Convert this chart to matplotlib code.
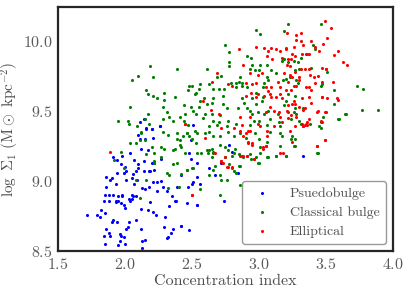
import matplotlib
matplotlib.use("Agg")
import matplotlib.pyplot as plt

# Psuedobulge (blue)
pb_x = [2.26, 2.16, 2.20, 2.10, 2.11, 2.15, 2.21, 2.12, 2.17, 2.04, 1.91, 1.94, 1.98, 2.27,
        2.07, 2.10, 2.14, 2.20, 2.22, 1.97, 2.00, 2.01, 2.10, 2.08, 2.06, 1.94, 1.99, 2.22,
        2.18, 2.14, 2.19, 1.86, 1.90, 1.89, 2.05, 2.01, 2.09, 1.93, 1.86, 2.07, 2.13, 2.15,
        2.18, 2.21, 2.24, 2.27, 2.28, 2.31, 2.24, 1.85, 1.88, 1.91, 1.95, 1.98, 1.98, 2.03,
        2.05, 2.04, 2.06, 2.05, 1.84, 1.88, 1.93, 1.95, 1.97, 2.00, 1.99, 1.93, 2.08, 2.19,
        2.38, 2.33, 2.54, 1.72, 1.79, 1.81, 1.82, 1.85, 1.91, 1.90, 1.94, 2.03, 2.08, 2.12,
        2.17, 2.21, 2.23, 2.30, 1.86, 1.88, 1.89, 1.84, 1.85, 1.96, 1.97, 2.01, 2.02, 1.99,
        1.96, 2.00, 1.95, 2.12, 2.13, 2.15, 2.13, 2.29, 2.31, 2.32, 2.36, 2.42, 2.50, 2.54,
        2.49, 2.48, 2.49, 2.54, 2.42, 2.51, 2.56, 2.39, 2.47, 2.63, 2.67, 2.72, 2.78, 2.80,
        2.84, 2.37, 2.46, 2.54, 2.74, 2.42, 2.48, 2.34, 2.35, 3.33, 2.51, 2.14, 2.11, 2.16,
        2.20, 2.26]
pb_y = [9.39, 9.37, 9.37, 9.33, 9.30, 9.30, 9.31, 9.23, 9.22, 9.20, 9.17, 9.15, 9.18, 9.16,
        9.15, 9.12, 9.14, 9.13, 9.13, 9.12, 9.10, 9.07, 9.09, 9.07, 9.05, 9.06, 9.06, 9.08,
        9.07, 9.07, 9.07, 9.03, 9.02, 9.01, 9.02, 9.01, 9.01, 8.98, 8.96, 8.98, 8.95, 8.94,
        8.96, 8.99, 8.99, 9.00, 8.96, 8.93, 8.93, 8.90, 8.90, 8.90, 8.89, 8.90, 8.89, 8.87,
        8.87, 8.86, 8.89, 8.90, 8.86, 8.86, 8.86, 8.86, 8.84, 8.81, 8.83, 8.85, 8.89, 8.85,
        8.86, 8.82, 8.83, 8.76, 8.76, 8.74, 8.79, 8.77, 8.72, 8.71, 8.71, 8.71, 8.72, 8.80,
        8.79, 8.78, 8.76, 8.74, 8.66, 8.63, 8.61, 8.61, 8.55, 8.62, 8.61, 8.66, 8.67, 8.60,
        8.57, 8.55, 8.54, 8.66, 8.57, 8.58, 8.52, 8.67, 8.59, 8.60, 8.66, 8.68, 8.98, 9.03,
        9.29, 9.20, 9.16, 9.13, 9.04, 8.99, 8.98, 8.96, 8.96, 9.09, 9.04, 9.13, 9.26, 9.21,
        9.06, 8.86, 8.84, 8.83, 8.86, 8.68, 8.65, 8.63, 8.89, 9.18, 9.40, 9.44, 9.42, 9.38,
        9.37, 9.39]

# Classical bulge (green)
cb_x = [2.19, 2.10, 2.21, 2.05, 2.16, 2.17, 2.21, 2.24, 2.29, 2.29, 2.04, 2.28, 2.31, 2.17,
        1.95, 2.02, 2.03, 2.09, 2.15, 2.18, 2.28, 2.33, 2.12, 2.12, 2.28, 2.32, 2.04, 2.08,
        2.11, 2.15, 2.16, 2.22, 2.20, 2.27, 2.29, 1.97, 1.92, 1.99, 2.22, 2.22, 2.27, 2.31,
        2.33, 2.08, 2.16, 2.32, 2.11,
        2.98, 3.01, 2.75, 2.78, 2.39, 2.61, 2.78, 2.78, 2.91, 2.94, 2.93, 2.95, 3.01, 2.69,
        2.72, 2.86, 2.85, 2.87, 2.97, 3.00, 3.06, 3.09, 3.13, 3.06, 3.07, 3.04, 3.03, 2.48,
        2.50, 2.56, 2.55, 2.47, 2.53, 2.52, 2.63, 2.66, 2.70, 2.74, 2.79, 2.83, 2.83, 2.87,
        2.91, 2.37, 2.59, 2.56, 2.61, 2.55, 2.65, 2.66, 2.73, 2.73, 2.44, 2.49, 2.51, 2.53,
        2.45, 2.44, 2.36, 2.41, 2.60, 2.58, 2.65, 2.66, 2.71, 2.70, 2.77, 2.76, 2.84, 2.91,
        2.87, 2.89, 2.95, 2.98, 3.02, 2.98, 3.03, 2.93, 2.95, 2.99, 3.04, 3.07, 2.96, 3.00,
        3.08, 3.14, 3.15, 2.47, 2.63, 2.69, 2.76, 2.83, 2.93, 3.06, 3.16,
        3.22, 3.46, 3.19, 3.40, 3.42, 3.35, 3.31, 3.29, 3.22, 3.26, 3.17, 3.19, 3.39, 3.50,
        3.51, 3.27, 3.30, 3.18, 3.20, 3.23, 3.28, 3.29, 3.47, 3.46, 3.73, 3.78, 3.56, 3.22,
        3.27, 3.20, 3.19, 3.47, 3.56, 3.27, 3.33, 3.22, 3.28, 3.26, 3.50, 3.64, 3.77, 3.89,
        3.48, 3.59, 3.46, 3.30, 3.31, 3.38, 3.24, 3.60, 3.65, 3.45, 3.46,
        2.43, 2.46, 2.41, 2.50, 2.54, 2.53, 2.61, 2.65, 2.66, 2.62, 2.65, 2.75, 2.77, 2.82,
        2.81, 2.87, 2.88, 2.94, 3.00, 2.86, 2.78, 3.05, 3.01, 3.06, 3.13, 3.20, 3.16, 3.24,
        3.26, 3.43, 2.51, 2.46,
        2.39, 2.41, 2.39, 2.46, 2.48, 2.52, 2.60, 2.63, 2.66, 2.71, 2.77, 2.81, 2.86, 2.90,
        2.97, 3.00, 3.06, 3.08, 3.16, 2.37, 2.42, 2.45, 2.54, 2.57, 2.63, 2.66, 2.71, 2.75,
        2.80, 2.85, 2.93, 2.98, 3.01, 3.07, 3.13, 2.36, 2.39, 2.50, 2.46, 2.63, 2.66, 2.71,
        2.72, 2.76, 2.81, 2.83, 2.86, 2.56, 2.71, 2.67, 2.80, 2.85, 2.99, 2.42, 2.40, 2.36,
        3.25, 3.27, 3.27, 3.20, 3.44, 3.17]
cb_y = [9.82, 9.75, 9.74, 9.72, 9.65, 9.62, 9.61, 9.59, 9.63, 9.58, 9.53, 9.53, 9.49, 9.48,
        9.43, 9.43, 9.41, 9.39, 9.44, 9.41, 9.44, 9.46, 9.35, 9.34, 9.35, 9.33, 9.27, 9.27,
        9.29, 9.29, 9.19, 9.20, 9.24, 9.24, 9.23, 9.21, 9.15, 9.09, 9.14, 9.13, 9.17, 9.06,
        9.04, 9.01, 9.01, 8.95, 8.88,
        10.08, 10.05, 9.97, 9.92, 9.80, 9.80, 9.85, 9.82, 9.89, 9.88, 9.80, 9.83, 9.83, 9.74,
        9.75, 9.74, 9.71, 9.70, 9.79, 9.79, 9.83, 9.79, 9.77, 9.74, 9.72, 9.70, 9.67, 9.68,
        9.68, 9.69, 9.66, 9.65, 9.63, 9.62, 9.69, 9.66, 9.66, 9.66, 9.70, 9.70, 9.67, 9.68,
        9.67, 9.60, 9.59, 9.57, 9.55, 9.53, 9.56, 9.59, 9.61, 9.55, 9.54, 9.53, 9.50, 9.48,
        9.48, 9.43, 9.43, 9.46, 9.48, 9.45, 9.48, 9.43, 9.47, 9.42, 9.43, 9.52, 9.52, 9.52,
        9.59, 9.56, 9.59, 9.63, 9.57, 9.55, 9.60, 9.50, 9.48, 9.49, 9.48, 9.50, 9.43, 9.43,
        9.44, 9.48, 9.42, 9.40, 9.39, 9.40, 9.39, 9.41, 9.40, 9.40, 9.39,
        10.12, 10.12, 10.07, 9.97, 9.94, 9.91, 9.88, 9.85, 9.85, 9.86, 9.86, 9.87, 9.81, 9.80,
        9.78, 9.79, 9.80, 9.72, 9.73, 9.74, 9.72, 9.70, 9.69, 9.68, 9.68, 9.66, 9.65, 9.62,
        9.61, 9.57, 9.54, 9.60, 9.55, 9.52, 9.52, 9.49, 9.48, 9.49, 9.49, 9.48, 9.51, 9.51,
        9.46, 9.44, 9.38, 9.43, 9.41, 9.41, 9.44, 9.44, 9.48, 9.39, 9.42,
        9.32, 9.34, 9.29, 9.30, 9.34, 9.27, 9.22, 9.23, 9.20, 9.20, 9.17, 9.17, 9.22, 9.23,
        9.20, 9.18, 9.17, 9.16, 9.13, 9.11, 9.12, 9.25, 9.24, 9.17, 9.18, 9.18, 9.25, 9.30,
        9.25, 9.20, 9.09, 9.08,
        9.30, 9.26, 9.34, 9.34, 9.32, 9.36, 9.34, 9.35, 9.32, 9.32, 9.35, 9.32, 9.34, 9.31,
        9.34, 9.30, 9.28, 9.35, 9.34, 9.23, 9.24, 9.20, 9.20, 9.20, 9.22, 9.21, 9.26, 9.24,
        9.18, 9.19, 9.19, 9.17, 9.20, 9.17, 9.18, 9.22, 9.13, 9.09, 9.08, 9.04, 9.08, 9.04,
        9.01, 9.01, 9.07, 9.06, 8.97, 8.94, 8.90, 9.11, 9.09, 9.11, 9.13, 9.05, 8.96, 9.12,
        9.32, 9.30, 9.25, 9.18, 9.20, 9.32]

# Elliptical (red)
el_x = [1.89, 2.50, 2.45,
        2.85, 2.98, 3.04, 3.07, 3.06, 3.09, 3.13, 3.10, 3.16, 2.88, 2.93, 2.99, 3.02, 2.69,
        2.65, 2.77, 2.80, 2.90, 2.95, 2.98, 3.05, 3.07, 3.09, 3.14, 3.16, 2.90, 2.94, 2.98,
        2.99, 3.04, 3.08, 3.09, 3.13, 3.16, 3.17, 2.58, 2.64, 2.70, 2.86, 2.93, 2.99, 3.05,
        3.08, 3.11, 3.15, 3.16, 2.87, 2.72, 2.81, 3.01, 3.11, 2.45,
        3.49, 3.54, 3.51, 3.21, 3.28, 3.31, 3.28, 3.31, 3.33, 3.26, 3.39, 3.42, 3.48, 3.45,
        3.20, 3.20, 3.25, 3.32, 3.36, 3.37, 3.59, 3.56, 3.63, 3.66, 3.17, 3.22, 3.24, 3.27,
        3.21, 3.23, 3.27, 3.31, 3.34, 3.37, 3.47, 3.50, 3.19, 3.23, 3.25, 3.30, 3.30, 3.38,
        3.41, 3.44, 3.47, 3.42, 3.39, 3.35, 3.37, 3.28, 3.26, 3.22, 3.24, 3.20, 3.55, 3.32,
        3.37, 3.39, 3.26, 3.25, 3.27, 3.22, 3.21, 3.47, 3.51, 3.58, 3.59, 3.30, 3.34, 3.33,
        3.44, 3.46, 3.47, 3.22, 3.24, 3.28, 3.32, 3.35, 3.36, 3.33, 3.27, 3.17,
        2.73, 2.72, 2.92, 2.95, 3.06, 3.43, 3.49, 2.88, 2.91, 2.96, 3.03, 2.77, 2.80, 3.34,
        3.33, 3.36, 3.37, 3.49, 3.43, 2.86, 2.92,
        2.60, 2.67, 2.88, 2.90, 2.92, 2.95, 2.93, 3.06, 3.05, 3.03, 2.86, 2.91, 2.96, 3.16,
        2.72, 2.76, 2.50, 2.75, 3.23, 3.25, 3.43, 3.49, 3.18]
el_y = [9.21, 8.90, 9.41,
        9.94, 9.96, 9.95, 9.93, 9.89, 9.95, 9.94, 9.87, 9.93, 9.83, 9.77, 9.76, 9.77, 9.77,
        9.71, 9.69, 9.68, 9.70, 9.69, 9.70, 9.67, 9.64, 9.67, 9.71, 9.67, 9.61, 9.63, 9.60,
        9.62, 9.61, 9.62, 9.60, 9.60, 9.62, 9.59, 9.57, 9.51, 9.48, 9.46, 9.46, 9.41, 9.49,
        9.53, 9.50, 9.49, 9.46, 9.40, 9.38, 9.38, 9.39, 9.39, 9.41,
        10.14, 10.09, 10.02, 10.06, 10.04, 10.06, 10.01, 10.00, 9.97, 9.96, 10.00, 9.96, 9.98,
        9.93, 9.95, 9.94, 9.91, 9.91, 9.91, 9.91, 9.93, 9.90, 9.85, 9.83, 9.88, 9.87, 9.87,
        9.89, 9.83, 9.82, 9.78, 9.80, 9.80, 9.80, 9.81, 9.80, 9.77, 9.76, 9.74, 9.74, 9.72,
        9.76, 9.74, 9.75, 9.71, 9.70, 9.65, 9.67, 9.67, 9.68, 9.68, 9.71, 9.65, 9.65, 9.71,
        9.59, 9.60, 9.56, 9.57, 9.55, 9.55, 9.54, 9.50, 9.60, 9.59, 9.59, 9.58, 9.53, 9.52,
        9.51, 9.50, 9.43, 9.42, 9.45, 9.47, 9.46, 9.41, 9.41, 9.40, 9.39, 9.39, 9.42,
        9.13, 9.14, 9.27, 9.26, 9.32, 9.25, 9.29, 9.18, 9.18, 9.16, 9.24, 9.10, 9.10, 9.40,
        9.39, 9.42, 9.44, 9.49, 9.49, 9.36, 9.36,
        9.31, 9.20, 9.32, 9.34, 9.28, 9.27, 9.36, 9.36, 9.25, 9.23, 9.18, 9.18, 9.16, 9.20,
        9.14, 9.10, 8.90, 9.17, 9.36, 9.28, 9.25, 9.29, 9.20]

plt.rcParams['font.family'] = 'serif'
plt.rcParams['font.serif'] = ['cmr10', 'DejaVu Serif']
plt.rcParams['mathtext.fontset'] = 'cm'
plt.rcParams['axes.formatter.use_mathtext'] = True

fig = plt.figure(figsize=(4.07, 2.94), dpi=100)
ax = fig.add_axes([0.1425, 0.1463, 0.823, 0.83])

ax.scatter(pb_x, pb_y, s=5, c='b', linewidths=0, label='Psuedobulge')
ax.scatter(cb_x, cb_y, s=5, c='g', linewidths=0, label='Classical bulge')
ax.scatter(el_x, el_y, s=5, c='r', linewidths=0, label='Elliptical')

ax.set_xlim(1.5, 4.0)
ax.set_ylim(8.5, 10.243)
ax.set_xticks([1.5, 2.0, 2.5, 3.0, 3.5, 4.0])
ax.set_yticks([8.5, 9.0, 9.5, 10.0])
ax.tick_params(length=0, labelsize=11.5, labelcolor='0.35', pad=4)
for sp in ax.spines.values():
    sp.set_linewidth(1.6)
    sp.set_color('0.15')

ax.set_xlabel('Concentration index', fontsize=11.5, color='0.3', labelpad=2)
ax.set_ylabel(r'$\log\ \Sigma_1\ (\mathrm{M}\odot\ \mathrm{kpc}^{-2})$', fontsize=11,
              color='0.3', labelpad=1)

leg = ax.legend(loc='lower right', fontsize=10, frameon=True, markerscale=1.0,
                handletextpad=1.0, borderpad=0.45, labelspacing=0.45)
leg.get_frame().set_edgecolor('0.5')
for t in leg.get_texts():
    t.set_color('0.3')

fig.savefig('out.png', dpi=100)
